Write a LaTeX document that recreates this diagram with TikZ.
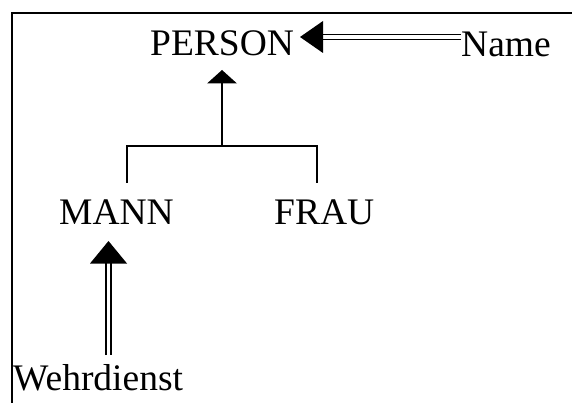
\documentclass[tikz,border=0pt]{standalone}
\usepackage{fontspec}
\setmainfont{Liberation Serif}
\usetikzlibrary{arrows.meta}
\begin{document}
\begin{tikzpicture}[x=1pt,y=-1pt,
  label/.style={anchor=base west,inner sep=0pt,font=\fontsize{37.5}{42}\selectfont},
  link/.style={line width=1.4pt},
  dline/.style={double,line width=1.5pt,double distance=3.4pt},
  head/.style={fill=black}]
  \useasboundingbox (0,0) rectangle (572,403);
  % frame edges
  \draw[line width=2.4pt] (12,403) -- (12,13) -- (572,13);
  % concepts
  \node[label] (person) at (150,56) {PERSON};
  \node[label] (name) at (461,57) {Name};
  \node[label] (mann) at (59,225) {MANN};
  \node[label] (frau) at (274,225) {FRAU};
  \node[label] (wehr) at (13,390) {Wehrdienst};
  % attribute arrow: Name => PERSON
  \coordinate (pTip) at (300,37);
  \coordinate (pBase) at (323,37);
  \coordinate (nEnd) at (name.west |- pTip);
  \draw[dline] (nEnd) -- (pBase);
  \fill[head] (pTip) -- (pBase |- 0,21) -- (pBase |- 0,53) -- cycle;
  % generalisation: MANN, FRAU -> PERSON
  \coordinate (gTip) at (222,70);
  \coordinate (gBase) at (222,83);
  \coordinate (gJoin) at (222,146);
  \coordinate (gL) at (127,146);
  \coordinate (gR) at (317,146);
  \coordinate (gLd) at (127,183);
  \coordinate (gRd) at (317,183);
  \draw[link] (gLd) -- (gL) -- (gR) -- (gRd);
  \draw[link] (gJoin) -- (gBase);
  \fill[head] (gTip) -- (207,83.5) -- (237,83.5) -- cycle;
  % attribute arrow: Wehrdienst => MANN
  \coordinate (mTip) at (108.5,241);
  \coordinate (mBase) at (108.5,263);
  \coordinate (wEnd) at (108.5,355);
  \draw[dline] (wEnd) -- (mBase);
  \fill[head] (mTip) -- (90,263.5) -- (127,263.5) -- cycle;
\end{tikzpicture}
\end{document}
